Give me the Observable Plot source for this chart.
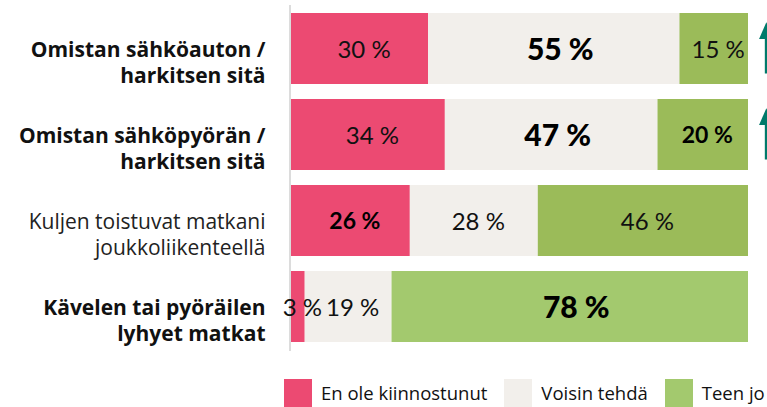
<!DOCTYPE html>
<html><head><meta charset="utf-8">
<script src="https://cdn.jsdelivr.net/npm/d3@7"></script>
<script src="https://cdn.jsdelivr.net/npm/@observablehq/plot@0.6"></script>
<style>
body{margin:0;background:#fff;font-family:"Open Sans",sans-serif;overflow:hidden}
#legend{display:flex;flex-wrap:nowrap;align-items:center;margin:9px 0 0 284px;width:483px;font-size:18.5px;color:#111;line-height:28px;white-space:nowrap}
.item{display:flex;flex-shrink:0;align-items:center;margin-right:17px}
.sw{width:28px;height:28px;margin-right:9px;flex-shrink:0}
</style></head>
<body><div id="chart"></div><div id="legend"></div>
<script>
const categories = [
  "Omistan sähköauton /\nharkitsen sitä",
  "Omistan sähköpyörän /\nharkitsen sitä",
  "Kuljen toistuvat matkani\njoukkoliikenteellä",
  "Kävelen tai pyöräilen\nlyhyet matkat"
];
const categoryEmphasis = [true, true, false, true];
const series = ["En ole kiinnostunut", "Voisin tehdä", "Teen jo"];
const notInterested = [30, 34, 26, 3];
const couldDo = [55, 47, 28, 19];
const alreadyDo = [15, 20, 46, 78];
const notInterestedEmphasis = [0, 0, 1, 0];
const couldDoEmphasis = [2, 2, 0, 0];
const alreadyDoEmphasis = [0, 1, 0, 2];
const trendUp = [true, true, false, false];

const seriesColors = {"En ole kiinnostunut": "#ec4a72", "Voisin tehdä": "#f2efeb", "Teen jo": "#9bbb59"};
const legendColors = ["#ec4a72", "#f2efeb", "#a3c96e"];

const valueArrays = [notInterested, couldDo, alreadyDo];
const emphasisArrays = [notInterestedEmphasis, couldDoEmphasis, alreadyDoEmphasis];
const rows = [];
categories.forEach((c, i) => {
  series.forEach((s, j) => {
    rows.push({category: c, series: s, value: valueArrays[j][i], emphasis: emphasisArrays[j][i], row: i});
  });
});
const arrows = categories.filter((c, i) => trendUp[i]);

const fillOf = d => (d.series === "Teen jo" && d.row === categories.length - 1) ? "#a3c96e" : seriesColors[d.series];
const valueFont = "Lato, 'Open Sans', sans-serif";

const arrowShape = {
  draw(ctx, l) {
    const hw = 5, hl = 13;
    ctx.moveTo(0, 0); ctx.lineTo(0, -l + hl);
    ctx.moveTo(-hw, -l + hl); ctx.lineTo(0, -l + 1.5); ctx.lineTo(hw, -l + hl); ctx.closePath();
  }
};

const chart = Plot.plot({
  width: 767, height: 370,
  marginLeft: 291, marginRight: 19, marginTop: 5, marginBottom: 19,
  style: {fontFamily: "'Open Sans', sans-serif", background: "#fff", color: "#111"},
  x: {domain: [0, 1], axis: null},
  y: {domain: categories, axis: null, paddingInner: 0.17, paddingOuter: 0.085},
  color: {type: "identity"},
  marks: [
    Plot.barX(rows, Plot.stackX({x: "value", y: "category", fill: fillOf, offset: "normalize"})),
    Plot.ruleX([0], {stroke: "#dcdcdc", strokeWidth: 2, dx: -1.5}),
    Plot.text(rows, Plot.stackX({x: "value", y: "category", offset: "normalize",
      text: d => d.emphasis === 0 ? `${d.value} %` : null, fontSize: 24, fontFamily: valueFont, fill: "#111", dx: 4, dy: 1})),
    Plot.text(rows, Plot.stackX({x: "value", y: "category", offset: "normalize",
      text: d => d.emphasis === 1 ? `${d.value} %` : null, fontSize: 23, fontWeight: "bold", fontFamily: valueFont, fill: "#000", dx: 4, dy: 1})),
    Plot.text(rows, Plot.stackX({x: "value", y: "category", offset: "normalize",
      text: d => d.emphasis === 2 ? `${d.value} %` : null, fontSize: 30, fontWeight: "900", fontFamily: valueFont, fill: "#000", dx: 6, dy: 1})),
    Plot.text(categories, {y: d => d, frameAnchor: "left", textAnchor: "end", dx: -26, dy: 13,
      text: (d, i) => categoryEmphasis[i] ? d : null, fontSize: 21, fontWeight: "bold", lineHeight: 1.2, fill: "#111"}),
    Plot.text(categories, {y: d => d, frameAnchor: "left", textAnchor: "end", dx: -26, dy: 13,
      text: (d, i) => categoryEmphasis[i] ? null : d, fontSize: 21, lineHeight: 1.2, fill: "#222"}),
    Plot.vector(arrows, {x: 1.039, y: d => d, length: 49, rotate: 0, anchor: "middle", shape: arrowShape,
      stroke: "#007a6b", fill: "#007a6b", strokeWidth: 3, strokeLinecap: "butt", strokeLinejoin: "miter", clip: false})
  ]
});
document.getElementById("chart").append(chart);

const legend = document.getElementById("legend");
series.forEach((s, i) => {
  const item = document.createElement("div");
  item.className = "item";
  const sw = document.createElement("span");
  sw.className = "sw";
  sw.style.background = legendColors[i];
  const t = document.createElement("span");
  t.textContent = s;
  item.append(sw, t);
  legend.append(item);
});
</script>
</body></html>
